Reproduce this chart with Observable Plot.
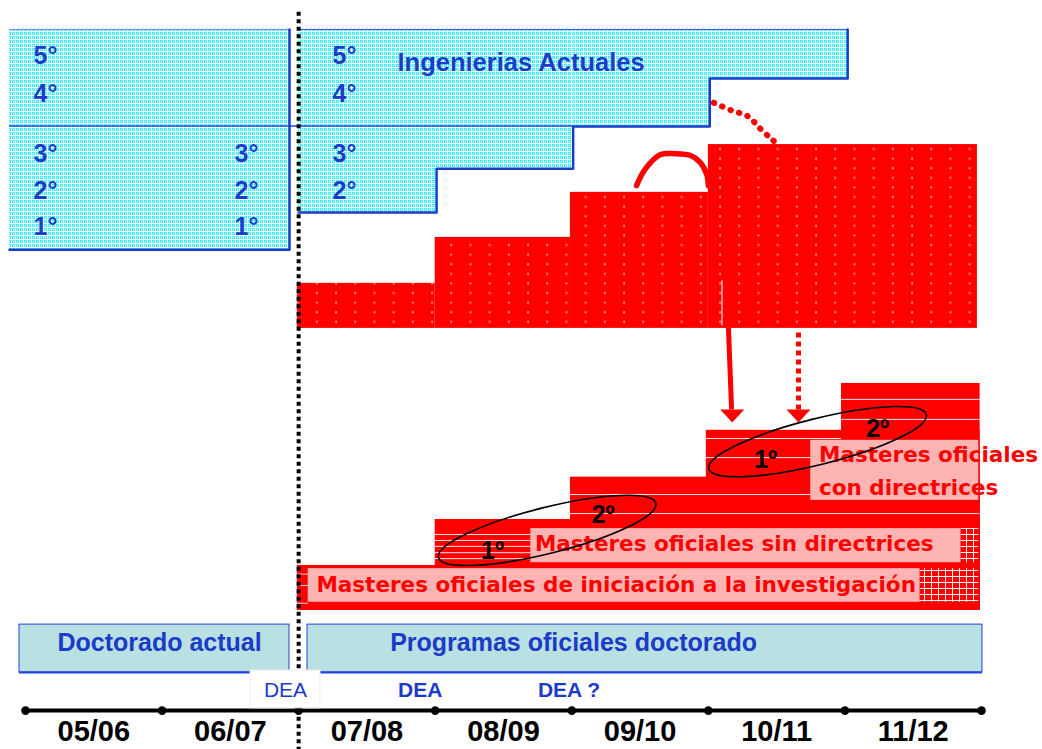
<!DOCTYPE html>
<html>
<head>
<meta charset="utf-8">
<script src="https://cdn.jsdelivr.net/npm/d3@7"></script>
<script src="https://cdn.jsdelivr.net/npm/@observablehq/plot@0.6"></script>
<style>
  html, body { margin: 0; padding: 0; background: #ffffff; }
  #chart { width: 1042px; height: 749px; overflow: hidden; }
</style>
</head>
<body>
<div id="chart"></div>
<script>
// ---------- DATA (x = academic-year index, y = course level) ----------
const years = ["05/06", "06/07", "07/08", "08/09", "09/10", "10/11", "11/12"];
const yearBoundaries = [0, 1, 2, 3, 4, 5, 6, 7];
const yearTicks = [0.5, 1.5, 2.5, 3.5, 4.5, 5.5, 6.5];
const reformYear = 2.0;          // dotted line: start of 07/08
const axisLevel = -2.2;

// Ingenierías actuales (cyan blocks)
const engTop = 12.77;
const engMiddle = 10.65;
const engLeftBlock = [{x1: -0.117, x2: 1.933, bottom: 7.93}];
const engRightCols = [
  {x1: 2.0,  x2: 3.01, bottom: 8.75},
  {x1: 3.01, x2: 4.01, bottom: 9.71},
  {x1: 4.01, x2: 5.01, bottom: 10.64},
  {x1: 5.01, x2: 6.02, bottom: 11.69}
];
const engStairs = [
  [6.02, 12.77], [6.02, 11.69], [5.01, 11.69], [5.01, 10.64], [4.01, 10.64],
  [4.01, 9.71], [3.01, 9.71], [3.01, 8.75], [2.0, 8.75]
];
const engLeftEdge = [[1.933, 12.77], [1.933, 7.93], [-0.117, 7.93]];
const courseNames = ["5°", "4°", "3°", "2°", "1°"];
const courseLevels = [12.18, 11.36, 10.04, 9.23, 8.42];
const courseColumns = [
  {x: 0.146, rows: [0, 1, 2, 3, 4]},
  {x: 1.618, rows: [2, 3, 4]},
  {x: 2.336, rows: [0, 1, 2, 3]}
];
const engTitle = [{x: 2.724, y: 12.04, text: "Ingenierias Actuales"}];

// Grados (red stepped block)
const gradoBottom = 6.2;
const gradoCols = [
  {x1: 1.99, x2: 3.0,  top: 7.19},
  {x1: 3.0,  x2: 3.99, top: 8.2},
  {x1: 3.99, x2: 5.0,  top: 9.19},
  {x1: 5.0,  x2: 6.97, top: 10.24}
];
const gradoSeam = [{x: 5.10, y1: 6.26, y2: 7.25}];
const curvedArrow = [
  [4.474, 9.34], [4.54, 9.71], [4.65, 10.02], [4.76, 10.04],
  [4.87, 10.0], [4.94, 9.85], [4.99, 9.56], [5.0, 9.34]
];
const dottedCurve = [
  [5.04, 11.16], [5.17, 10.99], [5.29, 10.86], [5.38, 10.59], [5.46, 10.37], [5.51, 10.24]
];
const downArrows = [
  {x1: 5.147, y1: 6.22, x2: 5.17, y2: 4.42, tipX: 5.175, tipY: 4.13, dashed: false},
  {x1: 5.66,  y1: 6.11, x2: 5.66, y2: 4.42, tipX: 5.66,  tipY: 4.13, dashed: true}
];

// Másteres (lower red steps)
const masterEnd = 6.99;
const masterSteps = [
  {x1: 1.99,  top: 0.99},
  {x1: 3.0,   top: 2.0},
  {x1: 3.99,  top: 2.93},
  {x1: 4.985, top: 3.96},
  {x1: 5.975, top: 4.99}
];
const masterStripes = [
  {y: 4.64, x1: 5.975, x2: 6.99}, {y: 4.2, x1: 5.975, x2: 6.99},
  {y: 3.78, x1: 4.985, x2: 5.975}, {y: 3.36, x1: 4.985, x2: 5.75},
  {y: 2.55, x1: 3.99, x2: 5.75}, {y: 2.13, x1: 3.99, x2: 6.99},
  {y: 1.67, x1: 3.0, x2: 3.70}, {y: 1.54, x1: 3.0, x2: 3.70},
  {y: 1.41, x1: 3.0, x2: 3.70}, {y: 1.27, x1: 3.0, x2: 3.70},
  {y: 1.14, x1: 3.0, x2: 3.70}, {y: 0.16, x1: 1.99, x2: 2.07},
  {y: 0.55, x1: 1.99, x2: 2.07}, {y: 0.8, x1: 1.99, x2: 2.07}
];
const gridPatches = [
  {x1: 6.55, x2: 6.98, y1: 0.18, y2: 0.92},
  {x1: 6.85, x2: 6.98, y1: 1.05, y2: 1.80}
];
const masterBoxes = [
  {x1: 2.07, x2: 6.55, y1: 0.18, y2: 0.92},
  {x1: 3.70, x2: 6.85, y1: 1.05, y2: 1.80},
  {x1: 5.75, x2: 6.98, y1: 2.42, y2: 3.74}
];
const masterLabels = [
  {x: 2.13, y: 0.55, text: "Masteres oficiales de iniciación a la investigación"},
  {x: 3.73, y: 1.45, text: "Masteres oficiales sin directrices"},
  {x: 5.81, y: 3.41, text: "Masteres oficiales"},
  {x: 5.81, y: 2.70, text: "con directrices"}
];
const courseEllipses = [{x: 3.82, y: 1.76}, {x: 5.80, y: 3.71}];
const ellipseLabels = [
  {x: 3.42, y: 1.30, text: "1º"}, {x: 4.23, y: 2.09, text: "2º"},
  {x: 5.42, y: 3.30, text: "1º"}, {x: 6.24, y: 4.00, text: "2º"}
];

// Doctorado
const docBoxes = [
  {x1: -0.044, x2: 1.933, y1: -1.36, y2: -0.31},
  {x1: 2.065,  x2: 7.007, y1: -1.36, y2: -0.31}
];
const docLabels = [
  {x: 0.234, y: -0.725, text: "Doctorado actual"},
  {x: 2.67,  y: -0.725, text: "Programas oficiales doctorado"}
];
const deaMask = [{x1: 1.648, x2: 2.16, y1: -2.15, y2: -1.32}];
const deaLabels = [
  {x: 1.904, y: -1.76, text: "DEA", bold: false},
  {x: 2.89,  y: -1.76, text: "DEA", bold: true},
  {x: 3.98,  y: -1.76, text: "DEA ?", bold: true}
];

// ---------- STYLE ----------
const BLUE = "#1b3bc8";
const RED = "#ff0000";
const PINK = "#ffb4b4";
const ARIAL = "Liberation Sans, Arial, Helvetica, sans-serif";
const WIDE = "DejaVu Sans, Verdana, sans-serif";

const arrowHead = {
  draw(ctx) { ctx.moveTo(-12, -13); ctx.lineTo(12, -13); ctx.lineTo(0, 0); ctx.closePath(); }
};
const ellipseSymbol = {
  draw(ctx) {
    const a = 112, b = 23, k = 0.5523;
    ctx.moveTo(a, 0);
    ctx.bezierCurveTo(a, k * b, k * a, b, 0, b);
    ctx.bezierCurveTo(-k * a, b, -a, k * b, -a, 0);
    ctx.bezierCurveTo(-a, -k * b, -k * a, -b, 0, -b);
    ctx.bezierCurveTo(k * a, -b, a, -k * b, a, 0);
    ctx.closePath();
  }
};

const courseLabelRows = courseColumns.flatMap(c =>
  c.rows.map(r => ({x: c.x, y: courseLevels[r], text: courseNames[r]})));

const chart = Plot.plot({
  width: 1042,
  height: 749,
  marginTop: 0, marginRight: 0, marginBottom: 39, marginLeft: 0,
  x: {domain: [0, 7], range: [25, 981]},
  y: {domain: [0, 10], range: [610, 155], axis: null},
  style: {background: "#ffffff", fontFamily: ARIAL, overflow: "visible"},
  marks: [
    // Ingenierías actuales
    Plot.rect(engLeftBlock, {x1: "x1", x2: "x2", y1: "bottom", y2: () => engTop, fill: "url(#cyanPat)"}),
    Plot.rect(engRightCols, {x1: "x1", x2: "x2", y1: "bottom", y2: () => engTop, fill: "url(#cyanPat)"}),
    Plot.ruleY([engTop], {x1: -0.117, x2: 1.933, stroke: "#6f8fe8", strokeWidth: 1}),
    Plot.ruleY([engTop], {x1: 2.0, x2: 6.02, stroke: "#3355dd", strokeWidth: 1}),
    Plot.ruleY([engMiddle], {x1: -0.117, x2: 4.01, stroke: "#2244dd", strokeWidth: 1.5}),
    Plot.line(engStairs, {x: d => d[0], y: d => d[1], stroke: BLUE, strokeWidth: 2.5}),
    Plot.line(engLeftEdge, {x: d => d[0], y: d => d[1], stroke: BLUE, strokeWidth: 2.5}),
    Plot.text(courseLabelRows, {x: "x", y: "y", text: "text", fill: BLUE, fontSize: 25, fontWeight: "bold", fontFamily: ARIAL}),
    Plot.text(engTitle, {x: "x", y: "y", text: "text", fill: BLUE, fontSize: 25.5, fontWeight: "bold", fontFamily: ARIAL, textAnchor: "start"}),

    // Grados block
    Plot.rect(gradoCols, {x1: "x1", x2: "x2", y1: () => gradoBottom, y2: "top", fill: "url(#redDots)"}),
    Plot.ruleX(gradoSeam, {x: "x", y1: "y1", y2: "y2", stroke: "#ffb0b0", strokeWidth: 1.5}),
    Plot.line(curvedArrow, {x: d => d[0], y: d => d[1], curve: "catmull-rom", stroke: RED, strokeWidth: 5.5, strokeLinecap: "round"}),
    Plot.line(dottedCurve, {x: d => d[0], y: d => d[1], curve: "catmull-rom", stroke: RED, strokeWidth: 6, strokeLinecap: "round", strokeDasharray: "0.5,8.5"}),
    Plot.link(downArrows.filter(d => !d.dashed), {x1: "x1", y1: "y1", x2: "x2", y2: "y2", stroke: RED, strokeWidth: 5}),
    Plot.link(downArrows.filter(d => d.dashed), {x1: "x1", y1: "y1", x2: "x2", y2: "y2", stroke: RED, strokeWidth: 5, strokeDasharray: "5,4"}),
    Plot.dot(downArrows, {x: "tipX", y: "tipY", symbol: arrowHead, fill: RED, stroke: "none"}),

    // Másteres
    Plot.rect(masterSteps, {x1: "x1", x2: () => masterEnd, y1: () => 0, y2: "top", fill: RED}),
    Plot.ruleY(masterStripes, {y: "y", x1: "x1", x2: "x2", stroke: "#ffffff", strokeWidth: 1, strokeOpacity: 0.9}),
    Plot.rect(gridPatches, {x1: "x1", x2: "x2", y1: "y1", y2: "y2", fill: "url(#whiteGrid)"}),
    Plot.rect(masterBoxes, {x1: "x1", x2: "x2", y1: "y1", y2: "y2", fill: PINK}),
    Plot.text(masterLabels, {x: "x", y: "y", text: "text", fill: RED, fontSize: 21.5, fontWeight: "bold", fontFamily: WIDE, textAnchor: "start"}),
    Plot.dot(courseEllipses, {x: "x", y: "y", symbol: ellipseSymbol, rotate: -14, fill: "none", stroke: "#000000", strokeWidth: 1.6}),
    Plot.text(ellipseLabels, {x: "x", y: "y", text: "text", fill: "#000000", fontSize: 25, fontWeight: "bold", fontFamily: ARIAL}),

    // Doctorado
    Plot.rect(docBoxes, {x1: "x1", x2: "x2", y1: "y1", y2: "y2", fill: "#b9e0e3", stroke: "#2244dd", strokeWidth: 1}),
    Plot.ruleY(docBoxes, {y: "y1", x1: "x1", x2: "x2", stroke: "#2244dd", strokeWidth: 2}),
    Plot.text(docLabels, {x: "x", y: "y", text: "text", fill: BLUE, fontSize: 25, fontWeight: "bold", fontFamily: ARIAL, textAnchor: "start"}),

    // Timeline
    Plot.ruleY([axisLevel], {x1: 0, x2: 7, stroke: "#000000", strokeWidth: 4}),
    Plot.dot(yearBoundaries, {x: d => d, y: () => axisLevel, r: 4.3, fill: "#000000"}),
    Plot.ruleX([reformYear], {y1: 13.15, y2: -3.2, stroke: "#000000", strokeWidth: 4, strokeDasharray: "4,3.5"}),
    Plot.rect(deaMask, {x1: "x1", x2: "x2", y1: "y1", y2: "y2", fill: "#ffffff", stroke: "#eeeeee", strokeWidth: 1}),
    Plot.text(deaLabels.filter(d => !d.bold), {x: "x", y: "y", text: "text", fill: BLUE, fontSize: 21, fontFamily: ARIAL}),
    Plot.text(deaLabels.filter(d => d.bold), {x: "x", y: "y", text: "text", fill: BLUE, fontSize: 21, fontWeight: "bold", fontFamily: ARIAL}),
    Plot.axisX({ticks: yearTicks, tickFormat: d => years[Math.floor(d)], tickSize: 0, tickPadding: 10,
                fontSize: 29, fontWeight: "bold", fill: "#000000", label: null})
  ]
});

// pattern definitions for the textured fills
const defs = d3.select(chart).insert("defs", ":first-child");
const cyan = defs.append("pattern").attr("id", "cyanPat").attr("patternUnits", "userSpaceOnUse")
  .attr("width", 4).attr("height", 4);
cyan.append("rect").attr("width", 4).attr("height", 4).attr("fill", "#ffffff");
cyan.append("rect").attr("x", 0).attr("y", 0).attr("width", 3).attr("height", 3).attr("fill", "#3ff4ff");
cyan.append("rect").attr("x", 1).attr("y", 1).attr("width", 1).attr("height", 1).attr("fill", "#ffffff");

const dots = defs.append("pattern").attr("id", "redDots").attr("patternUnits", "userSpaceOnUse")
  .attr("width", 19.2).attr("height", 9.6);
dots.append("rect").attr("width", 19.2).attr("height", 9.6).attr("fill", RED);
dots.append("rect").attr("x", 9).attr("y", 4).attr("width", 1.3).attr("height", 2).attr("fill", "#ffd6d6");

const grid = defs.append("pattern").attr("id", "whiteGrid").attr("patternUnits", "userSpaceOnUse")
  .attr("width", 7).attr("height", 6);
grid.append("rect").attr("width", 7).attr("height", 6).attr("fill", RED);
grid.append("path").attr("d", "M0 0.5H7M0.5 0V6").attr("stroke", "#ffffff").attr("stroke-width", 1);

d3.select(chart).selectAll('[aria-label="x-axis tick label"] text').attr("font-weight", "bold");
document.getElementById("chart").appendChild(chart);
</script>
</body>
</html>
